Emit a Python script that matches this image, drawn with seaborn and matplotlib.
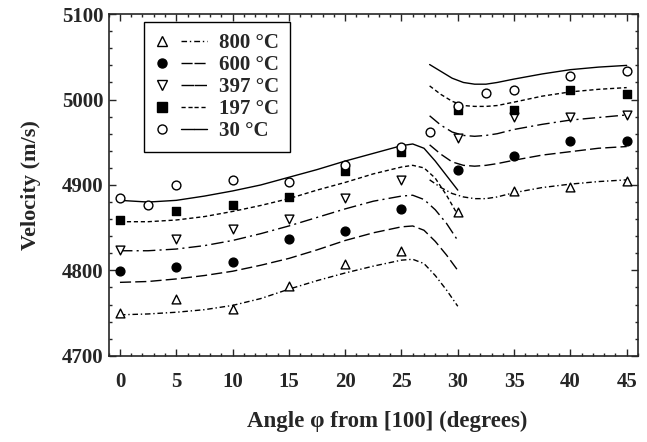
import matplotlib
matplotlib.use("Agg")
import matplotlib.pyplot as plt
from matplotlib.lines import Line2D
from matplotlib.legend_handler import HandlerTuple
from matplotlib.ticker import MultipleLocator
import pandas as pd
import seaborn as sns

# measured velocities (symbols)
angles = [0, 5, 10, 15, 20, 25, 30, 35, 40, 45]
v800 = [4750, 4766, 4755, 4782, 4807, 4823, 4868, 4893, 4898, 4905]
v600 = [4799, 4804, 4810, 4837, 4846, 4872, 4918, 4934, 4951, 4951]
v397 = [4824, 4837, 4849, 4860, 4885, 4906, 4955, 4979, 4980, 4982]
v197 = [4859, 4869, 4877, 4886, 4916, 4939, 4988, 4988, 5011, 5007]
angles30 = [0, 2.5, 5, 10, 15, 20, 25, 27.5, 30, 32.5, 35, 40, 45]
v30 = [4885, 4877, 4900, 4906, 4903, 4923, 4945, 4962, 4992, 5008, 5011, 5027, 5034]

# calculated curves (two branches each)
fit_x_left = [0, 2.5, 5, 7.5, 10, 12.5, 15, 17.5, 20, 22.5, 25, 26, 27, 28, 29, 30]
fit_x_right = [27.5, 28.5, 29.5, 30.5, 31.5, 32.5, 33.5, 35, 37.5, 40, 42.5, 45]

fit800_left = [4748, 4749, 4751, 4754, 4759, 4767, 4778, 4788, 4797, 4805, 4812, 4813, 4808, 4794, 4777, 4758]
fit600_left = [4786, 4787, 4790, 4794, 4799, 4806, 4814, 4824, 4835, 4844, 4851, 4852, 4847, 4834, 4818, 4800]
fit397_left = [4823, 4823, 4825, 4829, 4835, 4843, 4852, 4862, 4872, 4881, 4887, 4888, 4883, 4871, 4855, 4835]
fit197_left = [4857, 4857, 4859, 4863, 4869, 4876, 4884, 4894, 4903, 4913, 4921, 4923, 4920, 4908, 4888, 4865]
fit30_left = [4882, 4880, 4882, 4887, 4893, 4900, 4909, 4918, 4928, 4937, 4946, 4948, 4943, 4928, 4911, 4894]

fit800_right = [4906, 4897, 4890, 4886, 4884, 4884, 4886, 4891, 4897, 4901, 4904, 4906]
fit600_right = [4947, 4936, 4927, 4923, 4922, 4923, 4925, 4929, 4935, 4939, 4943, 4945]
fit397_right = [4981, 4970, 4962, 4958, 4957, 4958, 4960, 4965, 4971, 4976, 4979, 4982]
fit197_right = [5016, 5006, 4998, 4993, 4992, 4992, 4993, 4997, 5004, 5009, 5012, 5014]
fit30_right = [5041, 5033, 5025, 5020, 5018, 5018, 5020, 5024, 5030, 5035, 5038, 5040]

labels = ["800 °C", "600 °C", "397 °C", "197 °C", "30 °C"]

# styling per series
series = [
    (labels[0], angles, v800, fit800_left, fit800_right, "^", "white", (0, (4, 2, 1, 2))),
    (labels[1], angles, v600, fit600_left, fit600_right, "o", "black", (0, (8, 3))),
    (labels[2], angles, v397, fit397_left, fit397_right, "v", "white", (0, (9, 3, 1.5, 3))),
    (labels[3], angles, v197, fit197_left, fit197_right, "s", "black", (0, (3, 2))),
    (labels[4], angles30, v30, fit30_left, fit30_right, "o", "white", "-"),
]

sns.set_style("ticks")
plt.rcParams["font.family"] = ["Liberation Serif", "DejaVu Serif"]
plt.rcParams["font.weight"] = "bold"
plt.rcParams["axes.labelweight"] = "bold"

fig = plt.figure(figsize=(6.47, 4.42), dpi=100)
ax = fig.add_axes([0.168, 0.195, 0.818, 0.773])

handles = []
for name, xs, ys, fl, fr, mk, fc, ls in series:
    for fx, fy in ((fit_x_left, fl), (fit_x_right, fr)):
        sns.lineplot(x=fx, y=fy, ax=ax, color="black", linestyle=ls,
                     linewidth=1.0, sort=False, estimator=None)
    sns.scatterplot(x=xs, y=ys, ax=ax, marker=mk, s=40 if mk != "s" else 34,
                    facecolor=fc, edgecolor="black", linewidth=1.0, zorder=3)
    h_mk = Line2D([], [], marker=mk, markersize=6.5, markerfacecolor=fc,
                  markeredgecolor="black", markeredgewidth=1.0, linestyle="none")
    h_gap = Line2D([], [], linestyle="none")
    h_ln = Line2D([], [], color="black", linestyle=ls, linewidth=1.0)
    handles.append((h_mk, h_gap, h_ln, h_ln))

leg = ax.legend(handles, labels, handler_map={tuple: HandlerTuple(ndivide=None, pad=0)},
                loc="upper left", bbox_to_anchor=(0.066, 0.977), borderaxespad=0,
                fontsize=15, handlelength=2.5, handletextpad=0.55, labelspacing=0.09,
                borderpad=0.55, fancybox=False, framealpha=1, edgecolor="black")
leg.get_frame().set_linewidth(1.0)

ax.set_xlim(-1, 46)
ax.set_ylim(4700, 5100)
ax.xaxis.set_major_locator(MultipleLocator(5))
ax.xaxis.set_minor_locator(MultipleLocator(1))
ax.yaxis.set_major_locator(MultipleLocator(100))
ax.yaxis.set_minor_locator(MultipleLocator(20))
ax.tick_params(which="both", direction="in", top=True, right=True, labelsize=15, width=1.0)
ax.tick_params(which="major", length=5)
ax.tick_params(which="minor", length=2.5)
ax.tick_params(axis="x", which="major", pad=12)
ax.tick_params(axis="y", which="major", pad=4)
for s in ax.spines.values():
    s.set_linewidth(1.2)

ax.set_xlabel("Angle φ from [100] (degrees)", fontsize=16.5)
ax.set_ylabel("Velocity (m/s)", fontsize=16)
ax.xaxis.set_label_coords(0.527, -0.16)
ax.yaxis.set_label_coords(-0.128, 0.5)

fig.savefig("out.png", dpi=100)
